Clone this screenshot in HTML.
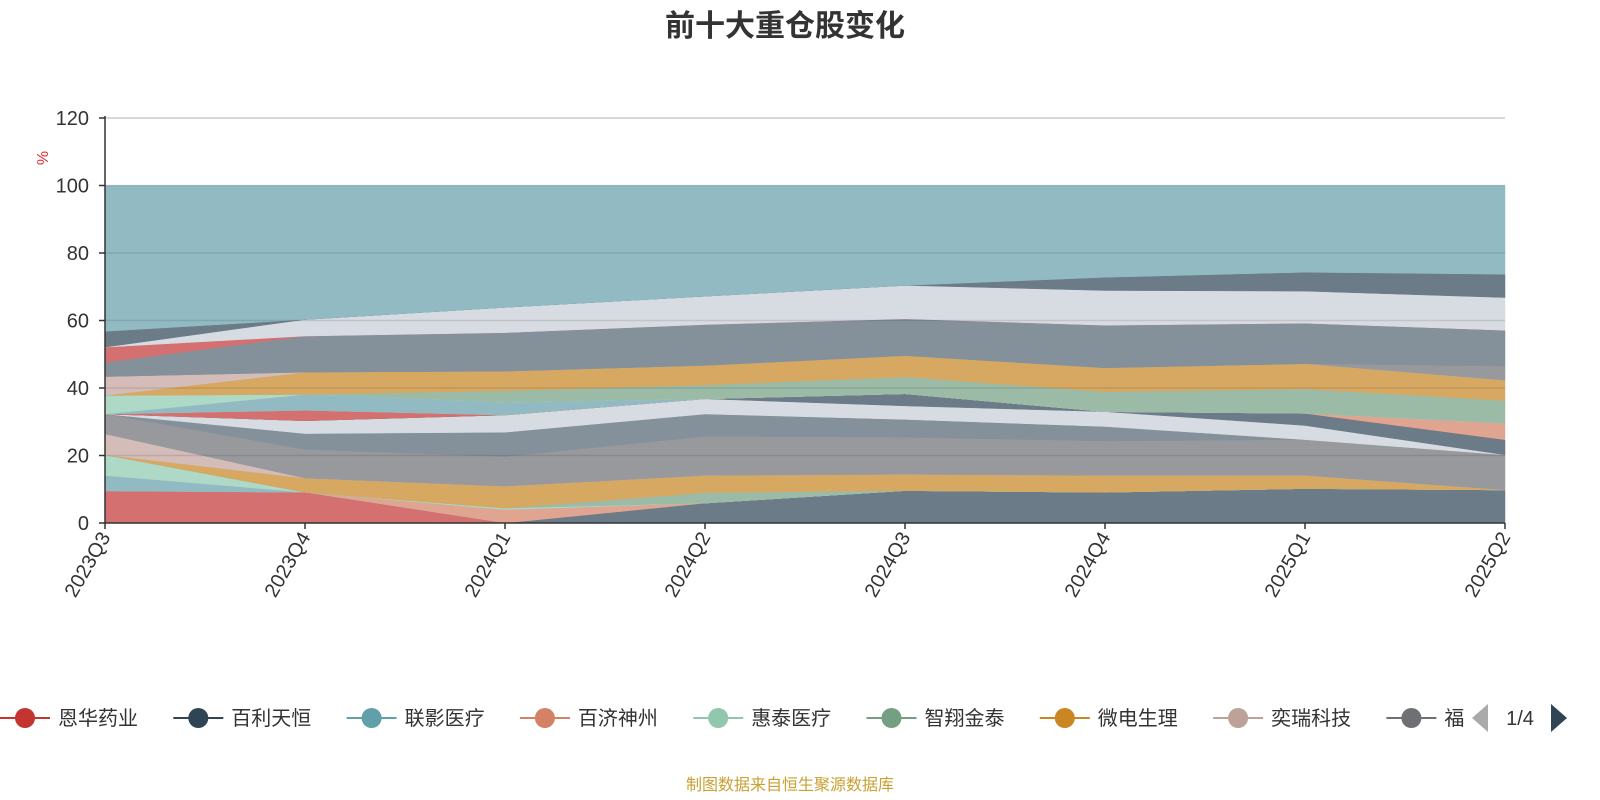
<!DOCTYPE html>
<html><head><meta charset="utf-8"><style>
body{margin:0;background:#fff;}
svg{display:block;font-family:"Liberation Sans","Noto Sans CJK SC",sans-serif;}
</style></head><body>
<svg id="c" width="1600" height="800">
<text x="785" y="36" text-anchor="middle" font-size="30" font-weight="bold" fill="#333">前十大重仓股变化</text>
<text x="0" y="0" transform="translate(48,158) rotate(-90)" text-anchor="middle" font-size="16" fill="#e03030">%</text>
<g id="areas"></g>
<g id="grid"></g>
<g id="axes"></g>
<g id="legend"></g>
<text x="790" y="790" text-anchor="middle" font-size="16" fill="#c9a032">制图数据来自恒生聚源数据库</text>
</svg>
<script>
const categories=["2023Q3","2023Q4","2024Q1","2024Q2","2024Q3","2024Q4","2025Q1","2025Q2"];
const yTicks=[0,20,40,60,80,100,120];
const layerColors=["#d4706f","#6b7b87","#e0a590","#91bac2","#aed9c6","#9bbba6","#d6a862","#d4bcb8","#98999d","#84919a","#d7dce2","#6b7b87","#d4706f","#e0a590","#91bac2","#aed9c6","#9bbba6","#d6a862","#d4bcb8","#98999d","#84919a","#d4706f","#d7dce2","#6b7b87","#91bac2"];
const s01=[9.5,9.1,0,0,0,0,0,0];
const s02=[0,0,0,5.9,9.6,9.1,10.2,9.8];
const s03=[0,0,4,0,0,0,0,0];
const s04=[4.6,0,0,0,0,0,0,0];
const s05=[6.1,0,0.4,0,0,0,0,0];
const s06=[0,0,0,3.1,0,0,0,0];
const s07=[0,4.2,6.5,5.1,4.8,5,3.9,0];
const s08=[6.2,0,0,0,0,0,0,0];
const s09=[5.9,8.5,8.8,11.6,11.0,10.2,10.6,10.4];
const s10=[0,4.7,7.2,6.6,5.3,4.3,0,0];
const s11=[0,3.8,5.1,4.5,4.0,4.4,4.2,0];
const s12=[0,0,0,0,3.6,0,3.6,4.5];
const s13=[0,3.1,0,0,0,0,0,0];
const s14=[0,0,0,0,0,0,0,4.9];
const s15=[0,4.7,3.8,0,0,0,0,0];
const s16=[5.5,0,0,0,0,0,0,0];
const s17=[0,0,3.4,4.1,5,5.9,7.2,6.7];
const s18=[0,6.6,5.8,5.8,6.3,7.1,7.5,6];
const s19=[5.6,0,0,0,0,0,0,0];
const s20=[0,0,0,0,0,0,0,4.2];
const s21=[4.2,10.7,11.4,12.1,10.9,12.6,12,10.6];
const s22=[4.5,0,0,0,0,0,0,0];
const s23=[0,4.9,7.5,8.4,9.9,10.3,9.5,9.7];
const s24=[4.7,0,0,0,0,3.9,5.6,6.9];
const s25=[43.2,39.7,36.1,32.8,29.6,27.2,25.7,26.3];
const series=[s01,s02,s03,s04,s05,s06,s07,s08,s09,s10,s11,s12,s13,s14,s15,s16,s17,s18,s19,s20,s21,s22,s23,s24,s25];
const legendNames=["恩华药业","百利天恒","联影医疗","百济神州","惠泰医疗","智翔金泰","微电生理","奕瑞科技","福"];
const legendColors=["#c23531","#2f4554","#61a0a8","#d48265","#91c7ae","#749f83","#ca8622","#bda29a","#6e7074"];
const NS="http://www.w3.org/2000/svg";
const X0=105,X1=1505,Y0=523,Y1=118,YMAX=120;
const xs=i=>X0+i*(X1-X0)/(categories.length-1);
const ys=v=>Y0-(v/YMAX)*(Y0-Y1);
function mk(t,a,p){const e=document.createElementNS(NS,t);for(const k in a)e.setAttribute(k,a[k]);p.appendChild(e);return e;}
const areas=document.getElementById('areas');
let base=categories.map(()=>0);
series.forEach((s,si)=>{
  const top=base.map((b,i)=>b+s[i]);
  let d="M"+categories.map((c,i)=>xs(i)+","+ys(top[i])).join("L");
  for(let i=categories.length-1;i>=0;i--)d+="L"+xs(i)+","+ys(base[i]);
  const p=mk('path',{d:d+"Z",fill:layerColors[si],stroke:layerColors[si],'stroke-width':0.5},areas);
  
  
  base=top;
});
const grid=document.getElementById('grid'),axes=document.getElementById('axes');
yTicks.forEach(t=>{
  if(t>0){const l=mk('line',{x1:X0,x2:X1,y1:ys(t),y2:ys(t),stroke:t===120?'#ccc':'rgba(0,0,0,0.1)','stroke-width':1.5},grid);
  
  }
  const tk=mk('line',{x1:X0-6,x2:X0,y1:ys(t),y2:ys(t),stroke:'#333','stroke-width':1.5},axes);
  
  
  const tx=mk('text',{x:X0-16,y:ys(t)+7,'text-anchor':'end','font-size':20,fill:'#333'},axes);
  tx.textContent=t;
  
  
});
mk('line',{x1:X0,x2:X0,y1:Y1-2,y2:Y0,stroke:'#333','stroke-width':1.5},axes);
mk('line',{x1:X0,x2:X1,y1:Y0,y2:Y0,stroke:'#333','stroke-width':1.5},axes);
categories.forEach((c,i)=>{
  const tk=mk('line',{x1:xs(i),x2:xs(i),y1:Y0,y2:Y0+6,stroke:'#333','stroke-width':1.5},axes);
  
  
  const tx=mk('text',{x:0,y:0,transform:`translate(${xs(i)+6},${Y0+14}) rotate(-60)`,'text-anchor':'end','font-size':20,fill:'#333'},axes);
  tx.textContent=c;
  
  
});
const lg=document.getElementById('legend');
const clip=mk('clipPath',{id:'lgclip'},lg);mk('rect',{x:0,y:695,width:1465,height:50},clip);
const lgi=mk('g',{'clip-path':'url(#lgclip)'},lg);
legendNames.forEach((n,i)=>{
  const cx=25+i*173.3;
  const g=mk('g',{},lgi);
  
  
  mk('line',{x1:cx-25,x2:cx+25,y1:718,y2:718,stroke:legendColors[i],'stroke-width':2},g);
  mk('circle',{cx:cx,cy:718,r:10,fill:legendColors[i]},g);
  const t=mk('text',{x:cx+33,y:725,'font-size':20,fill:'#333'},g);t.textContent=n;
});
const pl=mk('path',{d:'M1472,718L1488,704L1488,732Z',fill:'#aaa'},lg);


const pt=mk('text',{x:1520,y:725,'text-anchor':'middle','font-size':20,fill:'#333'},lg);pt.textContent='1/4';


const pn=mk('path',{d:'M1551,704L1567,718L1551,732Z',fill:'#2f4554'},lg);


</script>
</body></html>
